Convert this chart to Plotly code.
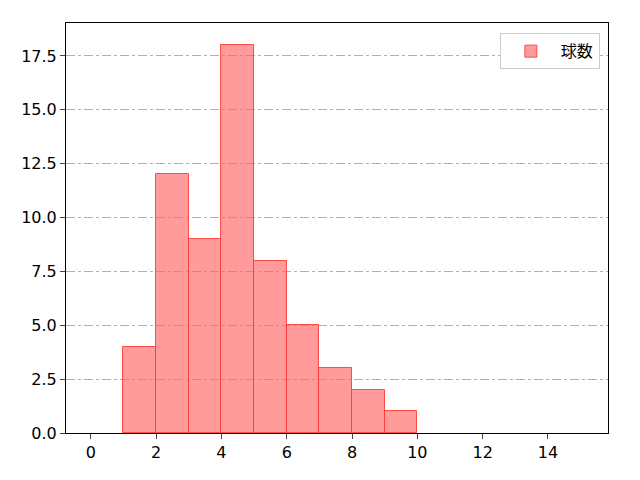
import plotly.graph_objects as go

bin_left = [1, 2, 3, 4, 5, 6, 7, 8, 9]
counts = [4, 12, 9, 18, 8, 5, 3, 2, 1]
xticks = [0, 2, 4, 6, 8, 10, 12, 14]
yticks = [0, 2.5, 5, 7.5, 10, 12.5, 15, 17.5]

fig = go.Figure(go.Bar(
    x=[b + 0.5 for b in bin_left], y=counts, width=1, name="球数",
    marker=dict(color="rgba(255,102,102,0.65)", line=dict(color="rgba(255,60,60,0.9)", width=1)),
    showlegend=True))
fig.update_layout(
    width=640, height=480, plot_bgcolor="white", paper_bgcolor="white",
    margin=dict(l=58, r=40, t=15, b=55),
    font=dict(family="DejaVu Sans, Noto Sans CJK JP", size=16, color="black"),
    bargap=0,
    legend=dict(x=0.985, y=0.975, xanchor="right", yanchor="top", bordercolor="#cccccc",
                borderwidth=1, itemwidth=50, font=dict(family="Noto Sans CJK JP", size=16)),
    xaxis=dict(range=[-0.76, 15.84], tickvals=xticks, showgrid=False, showline=True,
               linecolor="black", mirror=True, ticks="outside", zeroline=False),
    yaxis=dict(range=[0, 19.03], tickvals=yticks, tickformat=".1f", showgrid=True,
               gridcolor="#b0b0b0", griddash="dashdot", showline=True, linecolor="black",
               mirror=True, ticks="outside", zeroline=False),
)
fig.write_html("out.html")
